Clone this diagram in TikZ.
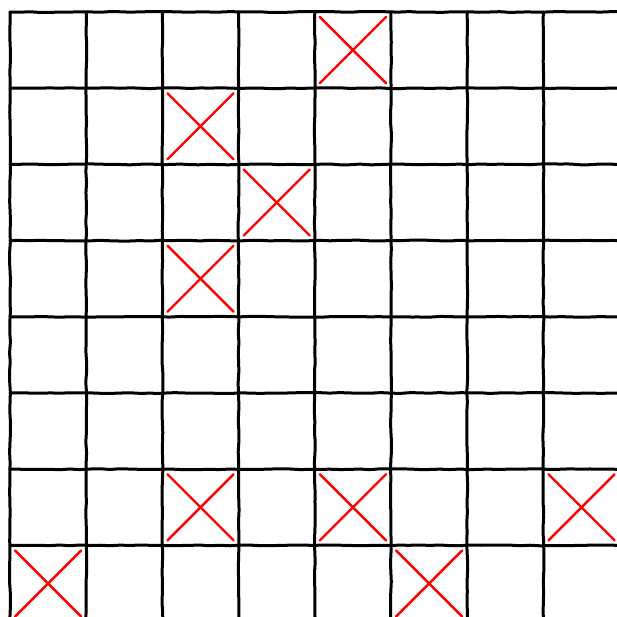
\documentclass[tikz,border=0pt]{standalone}
\usetikzlibrary{decorations.pathmorphing}
\begin{document}
\begin{tikzpicture}[x=1pt,y=-1pt,
  gridline/.style={black,line width=3pt,line cap=round,
    decorate,decoration={random steps,segment length=10pt,amplitude=0.5pt},rounded corners=3pt},
  xmark/.style={red,line width=2.4pt,line cap=round}]
\pgfmathsetseed{7}
\useasboundingbox (0,0) rectangle (617,617);
\clip (0,0) rectangle (617,617);
\foreach \i in {0,...,8}{
  \pgfmathsetmacro{\p}{10+76.2*\i}
  \draw[gridline] (\p,12) -- (\p,640);
  \pgfmathsetmacro{\q}{12+76.2*\i}
  \draw[gridline] (10,\q) -- (640,\q);
}
\foreach \c/\r in {4/0,2/1,3/2,2/3,2/6,4/6,7/6,0/7,5/7}{
  \pgfmathsetmacro{\xa}{10+76.2*\c+5}
  \pgfmathsetmacro{\xb}{10+76.2*(\c+1)-5}
  \pgfmathsetmacro{\ya}{12+76.2*\r+5}
  \pgfmathsetmacro{\yb}{12+76.2*(\r+1)-5}
  \draw[xmark] (\xa,\ya) -- (\xb,\yb);
  \draw[xmark] (\xa,\yb) -- (\xb,\ya);
}
\end{tikzpicture}
\end{document}
